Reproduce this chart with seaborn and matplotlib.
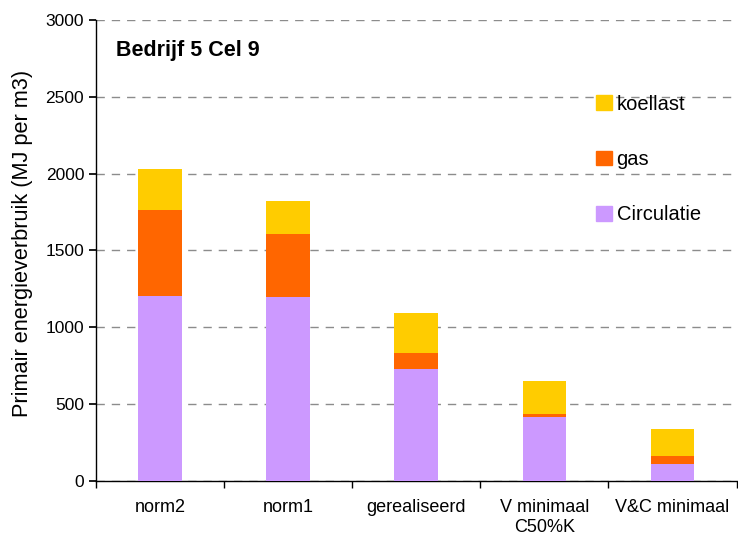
import numpy as np
import pandas as pd
import matplotlib
matplotlib.use("Agg")
import matplotlib.pyplot as plt
from matplotlib.patches import Patch
import seaborn as sns

categories = ["norm2", "norm1", "gerealiseerd", "V minimaal\nC50%K", "V&C minimaal"]
circulatie = [1205, 1195, 730, 415, 112]
gas = [560, 410, 105, 22, 53]
koellast = [265, 215, 260, 213, 173]

colors = {"Circulatie": "#CC99FF", "gas": "#FF6600", "koellast": "#FFCC00"}

sns.set_theme(style="white")
plt.rcParams["font.family"] = ["Liberation Sans", "DejaVu Sans"]
plt.rcParams["text.color"] = "black"
plt.rcParams["axes.labelcolor"] = "black"
plt.rcParams["xtick.color"] = "black"
plt.rcParams["ytick.color"] = "black"

df = pd.DataFrame({"categorie": categories, "Circulatie": circulatie,
                   "gas": gas, "koellast": koellast})
df["top_gas"] = df["Circulatie"] + df["gas"]
df["top_koel"] = df["top_gas"] + df["koellast"]

fig = plt.figure(figsize=(7.38, 5.39), dpi=100)
ax = fig.add_axes([0.130, 0.1076, 0.868, 0.8554])

# stacked bars: draw cumulative totals from the top down
for col, name in [("top_koel", "koellast"), ("top_gas", "gas"), ("Circulatie", "Circulatie")]:
    sns.barplot(data=df, x="categorie", y=col, color=colors[name], width=0.34,
                saturation=1, linewidth=0, ax=ax, zorder=3)

ax.set_ylim(0, 3000)
ax.set_xlim(-0.5, len(categories) - 0.5)
ax.set_yticks(np.arange(0, 3001, 500))
ax.yaxis.grid(True, linestyle=(0, (6, 5)), color="#8c8c8c", linewidth=1.0)
ax.set_axisbelow(True)

ax.set_xlabel("")
ax.set_ylabel("Primair energieverbruik (MJ per m3)", fontsize=15.7)
ax.yaxis.set_label_coords(-0.099, 0.516)
ax.tick_params(axis="y", labelsize=12.5, length=5, direction="out", left=True)
ax.tick_params(axis="x", which="major", labelsize=13, length=0, pad=13)
ax.set_xticks(np.arange(-0.5, len(categories)), minor=True)
ax.tick_params(axis="x", which="minor", length=5, direction="out", bottom=True)

for side in ["top", "right"]:
    ax.spines[side].set_visible(False)
for side in ["left", "bottom"]:
    ax.spines[side].set_color("black")
    ax.spines[side].set_linewidth(1.0)

ax.text(0.032, 0.933, "Bedrijf 5 Cel 9", transform=ax.transAxes, fontsize=15.5,
        fontweight="bold", va="center")

handles = [Patch(color=colors[n]) for n in ["koellast", "gas", "Circulatie"]]
ax.legend(handles, ["koellast", "gas", "Circulatie"], loc="upper left",
          bbox_to_anchor=(0.753, 0.877), frameon=False, fontsize=14.5,
          labelspacing=1.8, handlelength=0.75, handleheight=0.75, handletextpad=0.25)

fig.savefig("out.png", dpi=100)
